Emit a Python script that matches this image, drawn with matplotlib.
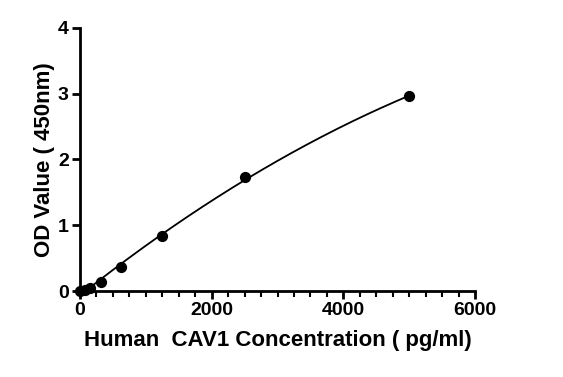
import numpy as np
import matplotlib
matplotlib.use("Agg")
import matplotlib.pyplot as plt
from matplotlib.ticker import MultipleLocator

plt.rcParams['font.family'] = ['Liberation Sans', 'DejaVu Sans']

# standard curve points
conc = [0, 78, 156, 312.5, 625, 1250, 2500, 5000]
od = [0.0, 0.02, 0.05, 0.13, 0.36, 0.84, 1.74, 2.96]

# fitted line through the standards
coef = np.polyfit(conc, od, 2)
xs = np.linspace(0, 5000, 200)
ys = np.polyval(coef, xs)

fig = plt.figure(figsize=(5.63, 3.77), dpi=100)
ax = fig.add_axes([0.142, 0.228, 0.702, 0.698])

ax.plot(xs, ys, color='black', lw=1.3)
ax.scatter(conc, od, s=50, color='black', zorder=3, clip_on=False)

ax.set_xlim(0, 6000)
ax.set_ylim(0, 4)
ax.xaxis.set_major_locator(MultipleLocator(2000))
ax.xaxis.set_minor_locator(MultipleLocator(250))
ax.yaxis.set_major_locator(MultipleLocator(1))

for s in ['top', 'right']:
    ax.spines[s].set_visible(False)
for s in ['left', 'bottom']:
    ax.spines[s].set_linewidth(2)

ax.tick_params(axis='both', which='major', width=2, length=6, labelsize=14, pad=2)
ax.tick_params(axis='x', which='minor', width=1.5, length=4)
for lab in ax.get_xticklabels() + ax.get_yticklabels():
    lab.set_fontweight('bold')

ax.set_xlabel('Human  CAV1 Concentration ( pg/ml)', fontsize=16, fontweight='bold', labelpad=8)
ax.set_ylabel('OD Value ( 450nm)', fontsize=16, fontweight='bold', labelpad=2)

fig.savefig('out.png', dpi=100)
